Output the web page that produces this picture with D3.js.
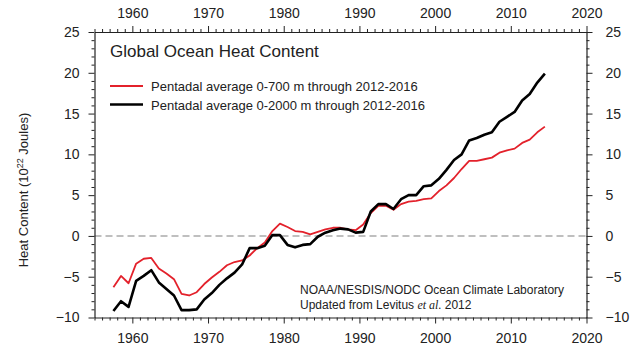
<!DOCTYPE html>
<html><head><meta charset="utf-8">
<script src="https://cdn.jsdelivr.net/npm/d3@7"></script>
<style>
html,body{margin:0;padding:0;background:#fff;}
svg text{font-family:"Liberation Sans",Arial,Helvetica,sans-serif;fill:#222;}
</style></head>
<body><svg id="c" width="634" height="356"></svg>
<script>
const years = d3.range(1957.5, 2015, 1);
const ohc700 = [-6.3,-4.9,-5.8,-3.4,-2.8,-2.7,-4.0,-4.6,-5.3,-7.1,-7.3,-6.9,-5.9,-5.1,-4.4,-3.6,-3.2,-3.0,-2.4,-1.5,-0.8,0.6,1.5,1.1,0.6,0.5,0.2,0.5,
  0.8,1.0,1.0,0.8,0.7,1.4,2.8,3.7,3.7,3.2,3.9,4.2,4.3,4.5,4.6,5.5,6.2,7.1,8.2,9.2,9.2,9.4,9.6,10.2,10.5,10.7,11.4,11.8,12.7,13.4];
const ohc2000 = [-9.2,-8.0,-8.7,-5.5,-4.9,-4.2,-5.7,-6.5,-7.3,-9.1,-9.1,-9.0,-7.8,-7.0,-6.0,-5.2,-4.5,-3.5,-1.5,-1.5,-1.2,0.1,0.1,-1.1,-1.4,-1.1,-1.0,-0.1,
  0.4,0.7,0.9,0.8,0.4,0.5,3.0,3.9,3.9,3.3,4.5,5.0,5.0,6.1,6.2,7.0,8.1,9.3,10.0,11.7,12.0,12.4,12.7,14.0,14.6,15.2,16.6,17.4,18.8,19.9];
const xTicks = [1960,1970,1980,1990,2000,2010,2020];
const yTicks = [-10,-5,0,5,10,15,20,25];
const seriesNames = ["Pentadal average 0-700 m through 2012-2016","Pentadal average 0-2000 m through 2012-2016"];
const seriesColors = ["#e3212b","#000000"];

const svg = d3.select("#c");
const L = 94.5, R = 586.5, T = 32, B = 317.5;
const x = d3.scaleLinear().domain([1955,2020]).range([L,R]);
const y = d3.scaleLinear().domain([-10,25]).range([B,T]);

// zero line
svg.append("line").attr("x1",L).attr("x2",R).attr("y1",y(0)).attr("y2",y(0))
  .attr("stroke","#aaa").attr("stroke-width",1.5).attr("stroke-dasharray","7,4");

// lines
const line = d3.line().x((d,i)=>x(years[i])).y(d=>y(d));
[ohc700, ohc2000].forEach((s,k)=>{
  svg.append("path").datum(s).attr("d",line).attr("fill","none")
    .attr("stroke",seriesColors[k]).attr("stroke-width",k?2.6:1.8).attr("stroke-linejoin","round");
});

// axes
function styleAxis(g){
  g.select(".domain").attr("stroke","#222").attr("stroke-width",1.2);
  g.selectAll(".tick line").attr("stroke","#222").attr("stroke-width",1);
  g.selectAll("text").attr("font-size",14).attr("fill","#222").attr("font-family","Liberation Sans, Arial, sans-serif");
}
const minorX = d3.range(1955,2021,1).filter(v=>v%10!==0);
const minorY = d3.range(-10,26,1).filter(v=>v%5!==0);

function addMinor(axisFn, scale, vals, pos){
  svg.append("g").attr("transform",pos).call(axisFn(scale).tickValues(vals).tickSize(3).tickFormat(""))
    .call(g=>{g.select(".domain").remove();g.selectAll("line").attr("stroke","#222");});
}
addMinor(d3.axisBottom, x, minorX, `translate(0,${B})`);
addMinor(d3.axisTop, x, minorX, `translate(0,${T})`);
addMinor(d3.axisLeft, y, minorY, `translate(${L},0)`);
addMinor(d3.axisRight, y, minorY, `translate(${R},0)`);

svg.append("g").attr("transform",`translate(0,${B})`)
  .call(d3.axisBottom(x).tickValues(xTicks).tickSize(6).tickPadding(10).tickSizeOuter(0).tickFormat(d3.format("d"))).call(styleAxis);
svg.append("g").attr("transform",`translate(0,${T})`)
  .call(d3.axisTop(x).tickValues(xTicks).tickSize(6).tickPadding(8).tickSizeOuter(0).tickFormat(d3.format("d"))).call(styleAxis);
svg.append("g").attr("transform",`translate(${L},0)`)
  .call(d3.axisLeft(y).tickValues(yTicks).tickSize(6).tickPadding(9).tickSizeOuter(0)).call(styleAxis);
svg.append("g").attr("transform",`translate(${R},0)`)
  .call(d3.axisRight(y).tickValues(yTicks).tickSize(6).tickPadding(13).tickSizeOuter(0)).call(styleAxis);

// title
svg.append("text").attr("x",110).attr("y",57).attr("font-size",17).text("Global Ocean Heat Content");

// legend
seriesNames.forEach((n,k)=>{
  const yy = 86 + k*18.5;
  svg.append("line").attr("x1",110).attr("x2",143).attr("y1",yy).attr("y2",yy)
    .attr("stroke",seriesColors[k]).attr("stroke-width",k?2.6:2);
  svg.append("text").attr("x",151).attr("y",yy+5).attr("font-size",13).text(n);
});

// y title
const yt = svg.append("text").attr("transform","translate(28,190) rotate(-90)")
  .attr("text-anchor","middle").attr("font-size",13);
yt.append("tspan").text("Heat Content (10");
yt.append("tspan").attr("dy",-5).attr("font-size",9).text("22");
yt.append("tspan").attr("dy",5).text(" Joules)");

// source note
svg.append("text").attr("x",300).attr("y",294).attr("font-size",12).text("NOAA/NESDIS/NODC Ocean Climate Laboratory");
const s2 = svg.append("text").attr("x",300).attr("y",309).attr("font-size",12);
s2.append("tspan").text("Updated from Levitus ");
s2.append("tspan").attr("font-family","Liberation Serif, serif").attr("font-style","italic").text("et al.");
s2.append("tspan").text(" 2012");
</script></body></html>
